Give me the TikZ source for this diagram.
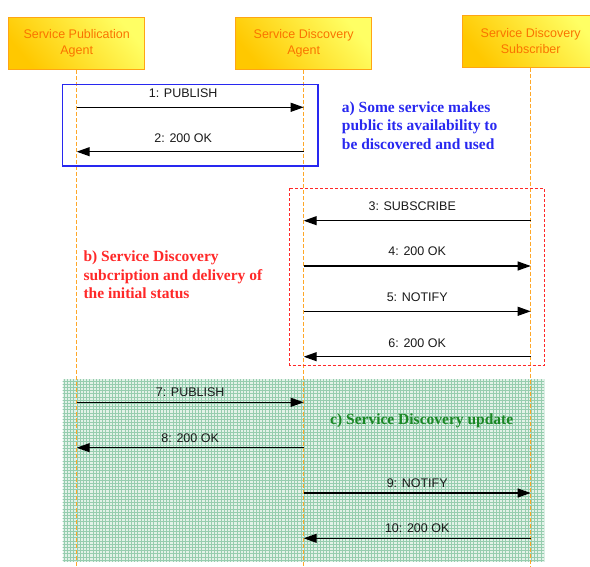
\documentclass[tikz,border=0pt]{standalone}
\usepackage{fontspec}
\setmainfont{Liberation Serif}
\setsansfont{Liberation Sans}
\usetikzlibrary{arrows.meta}

\definecolor{lifeline}{RGB}{255,168,40}
\definecolor{actorborder}{RGB}{255,165,20}
\definecolor{actortext}{RGB}{250,115,0}
\definecolor{actorlight}{RGB}{255,255,100}
\definecolor{actordark}{RGB}{255,200,0}
\definecolor{groupblue}{RGB}{40,40,240}
\definecolor{groupred}{RGB}{255,40,40}
\definecolor{groupgreen}{RGB}{25,135,35}
\definecolor{meshfill}{RGB}{226,242,232}
\definecolor{meshline}{RGB}{150,205,175}

\tikzset{
  actor/.style={draw=actorborder, line width=1.1pt,
    top color=actorlight, bottom color=actordark, shading angle=-50,
    minimum width=136pt, minimum height=52pt, align=center,
    text=actortext, font=\sffamily\fontsize{12.5}{16}\selectfont},
  life/.style={draw=lifeline, line width=0.9pt, dash pattern=on 4pt off 2pt},
  msg/.style={draw=black, line width=1.1pt,
    -{Triangle[length=13pt,width=9pt]}},
  msglabel/.style={font=\sffamily\fontsize{12.5}{14}\selectfont,
    text=black!90, inner sep=0pt},
  note/.style={font=\bfseries\fontsize{15.5}{18.5}\selectfont,
    align=left, inner sep=0pt, anchor=west}
}

\begin{document}
\begin{tikzpicture}[x=1pt,y=-1pt]
\useasboundingbox (0,0) rectangle (590,567);

% lifeline x positions
\def\xa{76.7}
\def\xb{303.7}
\def\xc{530.7}

% group c): meshed green background
\fill[meshfill] (62.7,379) rectangle (544.3,561.7);
\begin{scope}
  \clip (62.7,379) rectangle (544.3,561.7);
  \draw[meshline, line width=0.4pt, step=3.2pt] (60,376) grid (548,564);
\end{scope}

% participants
\node[actor] (spa) at (\xa,43.6) {Service Publication\\Agent};
\node[actor] (sda) at (\xb,43.6) {Service Discovery\\Agent};
\node[actor] (sds) at (\xc,41.2) {Service Discovery\\Subscriber};

% lifelines
\coordinate (spaend) at (\xa,567);
\coordinate (sdaend) at (\xb,567);
\coordinate (sdsend) at (\xc,567);
\draw[life] (spa.south) -- (spaend);
\draw[life] (sda.south) -- (sdaend);
\draw[life] (sds.south) -- (sdsend);

% group frames
\draw[groupblue, line width=1.1pt] (62.7,84.3) rectangle (318,166);
\draw[groupred, line width=0.9pt, dash pattern=on 3pt off 2pt]
  (289.3,188.3) rectangle (544.3,365);

% message end points on the lifelines
\foreach \n/\y in {1/107.3,2/151.7,3/220.7,4/266,5/311.3,6/356.7,
                   7/402.3,8/447.7,9/493,10/538.3}{
  \coordinate (a\n) at (\xa,\y);
  \coordinate (b\n) at (\xb,\y);
  \coordinate (c\n) at (\xc,\y);
}

% messages
\draw[msg] (a1) -- (b1) node[msglabel, midway, yshift=14.5pt, xshift=-7pt] (l1) {1: PUBLISH};
\draw[msg] (b2) -- (a2) node[msglabel, midway, yshift=14pt, xshift=-7pt] (l2) {2: 200 OK};
\draw[msg] (c3) -- (b3) node[msglabel, midway, yshift=15pt, xshift=-5pt] (l3) {3: SUBSCRIBE};
\draw[msg] (b4) -- (c4) node[msglabel, midway, yshift=15pt] (l4) {4: 200 OK};
\draw[msg] (b5) -- (c5) node[msglabel, midway, yshift=14.5pt] (l5) {5: NOTIFY};
\draw[msg] (c6) -- (b6) node[msglabel, midway, yshift=14pt] (l6) {6: 200 OK};
\draw[msg] (a7) -- (b7) node[msglabel, midway, yshift=10pt] (l7) {7: PUBLISH};
\draw[msg] (b8) -- (a8) node[msglabel, midway, yshift=10pt] (l8) {8: 200 OK};
\draw[msg] (b9) -- (c9) node[msglabel, midway, yshift=10pt] (l9) {9: NOTIFY};
\draw[msg] (c10) -- (b10) node[msglabel, midway, yshift=10pt] (l10) {10: 200 OK};

% group captions
\node[note, text=groupblue] (capa) at (341.7,125.3)
  {a) Some service makes\\public its availability to\\be discovered and used};
\node[note, text=groupred] (capb) at (83.3,274.8)
  {b) Service Discovery\\subcription and delivery of\\the initial status};
\node[note, text=groupgreen, anchor=center] (capc) at (421.7,420.7)
  {c) Service Discovery update};
\end{tikzpicture}
\end{document}
